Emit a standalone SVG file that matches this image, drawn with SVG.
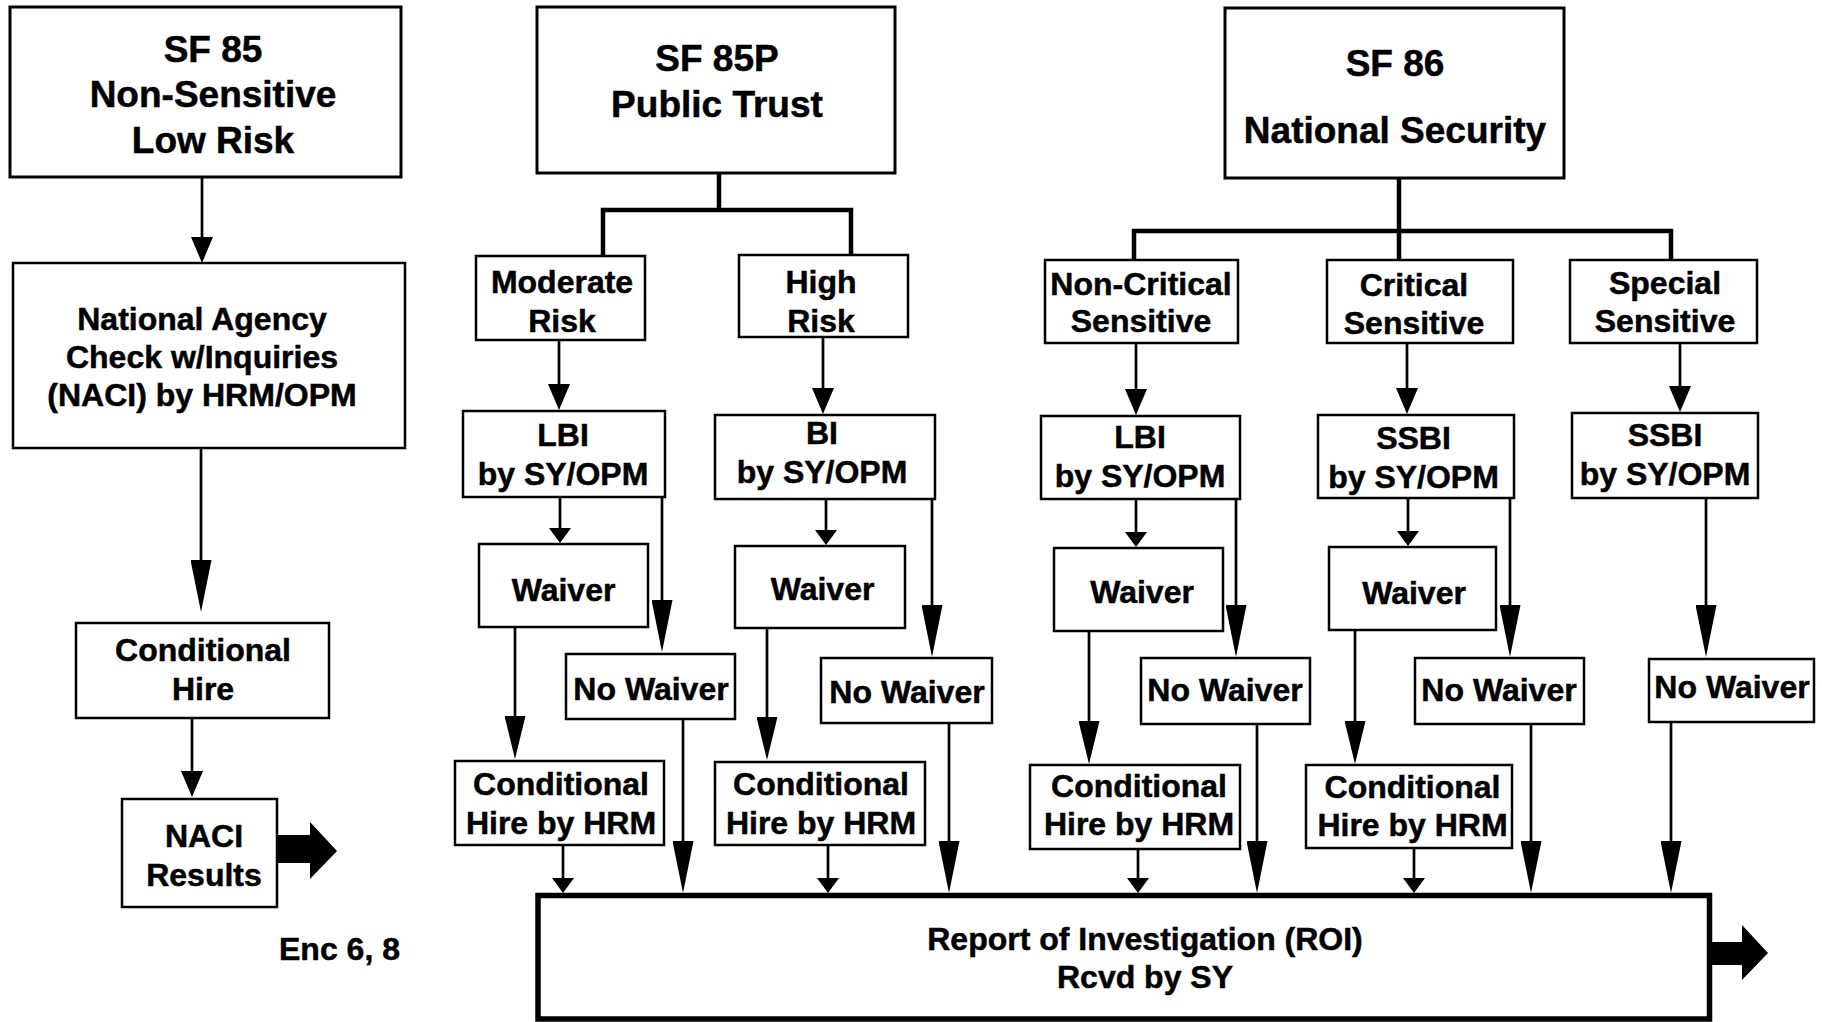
<svg xmlns="http://www.w3.org/2000/svg" width="1822" height="1022" viewBox="0 0 1822 1022">
  <style>
    .box { fill: #fff; stroke: #000; stroke-width: 2.5; }
    .head { stroke-width: 3; }
    .roi { stroke-width: 5.5; }
    text { font-family: "Liberation Sans", Arial, Helvetica, sans-serif; font-weight: 700; font-size: 32px; fill: #000; stroke: #000; stroke-width: 0.5; text-anchor: middle; }
    text.big { font-size: 37px; }
    text.note { text-anchor: start; }
    .conn line { stroke: #000; stroke-width: 2.7; fill: none; }
    .trunk { stroke: #000; stroke-width: 4.5; fill: none; stroke-linejoin: miter; }
    .fat { fill: #000; stroke: none; }
  </style>
  <defs>
    <!-- arrowheads: line ends halfway into the head (refX = length/2) -->
    <marker id="ah-s" markerUnits="userSpaceOnUse" orient="auto" viewBox="0 -11 15 22" markerWidth="15" markerHeight="22" refX="7.5" refY="0">
      <path d="M0,-11 L15,0 L0,11 Z" fill="#000"/>
    </marker>
    <marker id="ah-m" markerUnits="userSpaceOnUse" orient="auto" viewBox="0 -11 26 22" markerWidth="26" markerHeight="22" refX="13" refY="0">
      <path d="M0,-11 L26,0 L0,11 Z" fill="#000"/>
    </marker>
    <marker id="ah-w" markerUnits="userSpaceOnUse" orient="auto" viewBox="0 -10.5 43 21" markerWidth="43" markerHeight="21" refX="21.5" refY="0">
      <path d="M0,-10.5 L43,0 L0,10.5 Z" fill="#000"/>
    </marker>
    <marker id="ah-l" markerUnits="userSpaceOnUse" orient="auto" viewBox="0 -10.5 52 21" markerWidth="52" markerHeight="21" refX="26" refY="0">
      <path d="M0,-10.5 L52,0 L0,10.5 Z" fill="#000"/>
    </marker>
  </defs>

  <rect width="1822" height="1022" fill="#fff"/>

  <!-- connectors -->
  <g id="connectors" class="conn">
    <path class="trunk" d="M603,256 V210 H851 V255 M719,173 V210"/>
    <path class="trunk" d="M1134,260 V231 H1671 V260 M1399,178 V260"/>

    <line x1="202" y1="177" x2="202" y2="250" marker-end="url(#ah-m)"/>
    <line x1="201" y1="448" x2="201" y2="586" marker-end="url(#ah-l)"/>
    <line x1="192" y1="718" x2="192" y2="784" marker-end="url(#ah-m)"/>

    <line x1="559" y1="340" x2="559" y2="397" marker-end="url(#ah-m)"/>
    <line x1="823" y1="337" x2="823" y2="401" marker-end="url(#ah-m)"/>
    <line x1="560" y1="497" x2="560" y2="535.5" marker-end="url(#ah-s)"/>
    <line x1="662" y1="497" x2="662" y2="626" marker-end="url(#ah-l)"/>
    <line x1="515" y1="627" x2="515" y2="737.5" marker-end="url(#ah-w)"/>
    <line x1="563" y1="845" x2="563" y2="885.5" marker-end="url(#ah-s)"/>
    <line x1="683" y1="719" x2="683" y2="867" marker-end="url(#ah-l)"/>
    <line x1="826" y1="499" x2="826" y2="537.5" marker-end="url(#ah-s)"/>
    <line x1="932" y1="499" x2="932" y2="631" marker-end="url(#ah-l)"/>
    <line x1="767" y1="628" x2="767" y2="738.5" marker-end="url(#ah-w)"/>
    <line x1="828" y1="845" x2="828" y2="885.5" marker-end="url(#ah-s)"/>
    <line x1="949" y1="723" x2="949" y2="867" marker-end="url(#ah-l)"/>

    <line x1="1136" y1="343" x2="1136" y2="402" marker-end="url(#ah-m)"/>
    <line x1="1407" y1="343" x2="1407" y2="401" marker-end="url(#ah-m)"/>
    <line x1="1680" y1="343" x2="1680" y2="399" marker-end="url(#ah-m)"/>
    <line x1="1136" y1="499" x2="1136" y2="539.5" marker-end="url(#ah-s)"/>
    <line x1="1236" y1="499" x2="1236" y2="631" marker-end="url(#ah-l)"/>
    <line x1="1089" y1="631" x2="1089" y2="742.5" marker-end="url(#ah-w)"/>
    <line x1="1138" y1="849" x2="1138" y2="885.5" marker-end="url(#ah-s)"/>
    <line x1="1257" y1="724" x2="1257" y2="867" marker-end="url(#ah-l)"/>
    <line x1="1408" y1="498" x2="1408" y2="538.5" marker-end="url(#ah-s)"/>
    <line x1="1510" y1="498" x2="1510" y2="631" marker-end="url(#ah-l)"/>
    <line x1="1355" y1="630" x2="1355" y2="742.5" marker-end="url(#ah-w)"/>
    <line x1="1414" y1="848" x2="1414" y2="885.5" marker-end="url(#ah-s)"/>
    <line x1="1531" y1="724" x2="1531" y2="867" marker-end="url(#ah-l)"/>
    <line x1="1706" y1="498" x2="1706" y2="631" marker-end="url(#ah-l)"/>
    <line x1="1671" y1="722" x2="1671" y2="867" marker-end="url(#ah-l)"/>

    <!-- block arrows leaving the result boxes -->
    <polygon class="fat" points="277,835 310,835 310,822 337,851 310,879 310,863 277,863"/>
    <polygon class="fat" points="1711,942 1742,942 1742,925 1768,953 1742,980 1742,965 1711,965"/>
  </g>

  <!-- SF 85 column -->
  <g id="sf85">
    <rect class="box head" x="10" y="7" width="391" height="170"/>
    <text class="big" x="213" y="62">SF 85</text>
    <text class="big" x="213" y="107">Non-Sensitive</text>
    <text class="big" x="213" y="153">Low Risk</text>
  </g>
  <g id="naci">
    <rect class="box" x="13" y="263" width="392" height="185"/>
    <text x="202" y="330">National Agency</text>
    <text x="202" y="368">Check w/Inquiries</text>
    <text x="202" y="406">(NACI) by HRM/OPM</text>
  </g>
  <g id="cond-hire">
    <rect class="box" x="76" y="623" width="253" height="95"/>
    <text x="203" y="661">Conditional</text>
    <text x="203" y="700">Hire</text>
  </g>
  <g id="naci-results">
    <rect class="box" x="122" y="799" width="155" height="108"/>
    <text x="204" y="847">NACI</text>
    <text x="204" y="886">Results</text>
  </g>
  <g id="enc-note">
    <text class="note" x="279" y="960">Enc 6, 8</text>
  </g>

  <!-- SF 85P column -->
  <g id="sf85p">
    <rect class="box head" x="537" y="7" width="358" height="166"/>
    <text class="big" x="717" y="71">SF 85P</text>
    <text class="big" x="717" y="117">Public Trust</text>
  </g>
  <g id="moderate-risk">
    <rect class="box" x="476" y="256" width="169" height="84"/>
    <text x="562" y="293">Moderate</text>
    <text x="562" y="332">Risk</text>
  </g>
  <g id="high-risk">
    <rect class="box" x="739" y="255" width="169" height="82"/>
    <text x="821" y="293">High</text>
    <text x="821" y="332">Risk</text>
  </g>
  <g id="lbi-moderate">
    <rect class="box" x="463" y="411" width="202" height="86"/>
    <text x="563" y="446">LBI</text>
    <text x="563" y="485">by SY/OPM</text>
  </g>
  <g id="bi-high">
    <rect class="box" x="715" y="415" width="220" height="84"/>
    <text x="822" y="444">BI</text>
    <text x="822" y="483">by SY/OPM</text>
  </g>
  <g id="waiver-moderate">
    <rect class="box" x="479" y="544" width="169" height="83"/>
    <text x="563.5" y="601">Waiver</text>
  </g>
  <g id="waiver-high">
    <rect class="box" x="735" y="546" width="170" height="82"/>
    <text x="822.5" y="600">Waiver</text>
  </g>
  <g id="no-waiver-moderate">
    <rect class="box" x="566" y="654" width="169" height="65"/>
    <text x="651" y="700">No Waiver</text>
  </g>
  <g id="no-waiver-high">
    <rect class="box" x="821" y="658" width="171" height="65"/>
    <text x="907" y="703">No Waiver</text>
  </g>
  <g id="cond-hire-moderate">
    <rect class="box" x="455" y="761" width="209" height="84"/>
    <text x="561" y="794.5">Conditional</text>
    <text x="561" y="833.5">Hire by HRM</text>
  </g>
  <g id="cond-hire-high">
    <rect class="box" x="715" y="762" width="210" height="83"/>
    <text x="821" y="794.5">Conditional</text>
    <text x="821" y="833.5">Hire by HRM</text>
  </g>

  <!-- SF 86 column -->
  <g id="sf86">
    <rect class="box head" x="1225" y="8" width="339" height="170"/>
    <text class="big" x="1395" y="76">SF 86</text>
    <text class="big" x="1395" y="143">National Security</text>
  </g>
  <g id="non-critical">
    <rect class="box" x="1045" y="260" width="193" height="83"/>
    <text x="1141" y="295">Non-Critical</text>
    <text x="1141" y="332">Sensitive</text>
  </g>
  <g id="critical">
    <rect class="box" x="1327" y="260" width="186" height="83"/>
    <text x="1414" y="296">Critical</text>
    <text x="1414" y="334">Sensitive</text>
  </g>
  <g id="special">
    <rect class="box" x="1570" y="260" width="187" height="83"/>
    <text x="1665" y="294">Special</text>
    <text x="1665" y="332">Sensitive</text>
  </g>
  <g id="lbi-noncritical">
    <rect class="box" x="1041" y="416" width="199" height="83"/>
    <text x="1140" y="448">LBI</text>
    <text x="1140" y="487">by SY/OPM</text>
  </g>
  <g id="ssbi-critical">
    <rect class="box" x="1318" y="415" width="196" height="83"/>
    <text x="1413.5" y="449">SSBI</text>
    <text x="1413.5" y="488">by SY/OPM</text>
  </g>
  <g id="ssbi-special">
    <rect class="box" x="1572" y="413" width="186" height="85"/>
    <text x="1665" y="446">SSBI</text>
    <text x="1665" y="485">by SY/OPM</text>
  </g>
  <g id="waiver-noncritical">
    <rect class="box" x="1054" y="548" width="169" height="83"/>
    <text x="1142" y="603">Waiver</text>
  </g>
  <g id="waiver-critical">
    <rect class="box" x="1329" y="547" width="167" height="83"/>
    <text x="1414" y="604">Waiver</text>
  </g>
  <g id="no-waiver-noncritical">
    <rect class="box" x="1141" y="658" width="169" height="66"/>
    <text x="1225" y="701">No Waiver</text>
  </g>
  <g id="no-waiver-critical">
    <rect class="box" x="1415" y="658" width="169" height="66"/>
    <text x="1499" y="701">No Waiver</text>
  </g>
  <g id="no-waiver-special">
    <rect class="box" x="1649" y="659" width="165" height="63"/>
    <text x="1732" y="698">No Waiver</text>
  </g>
  <g id="cond-hire-noncritical">
    <rect class="box" x="1030" y="765" width="210" height="84"/>
    <text x="1139" y="797">Conditional</text>
    <text x="1139" y="835">Hire by HRM</text>
  </g>
  <g id="cond-hire-critical">
    <rect class="box" x="1306" y="765" width="206" height="83"/>
    <text x="1412.5" y="798">Conditional</text>
    <text x="1412.5" y="836">Hire by HRM</text>
  </g>

  <!-- report of investigation -->
  <g id="roi">
    <rect class="box roi" x="538" y="895.5" width="1171.5" height="123.5"/>
    <text x="1145" y="950">Report of Investigation (ROI)</text>
    <text x="1145" y="988">Rcvd by SY</text>
  </g>
</svg>
